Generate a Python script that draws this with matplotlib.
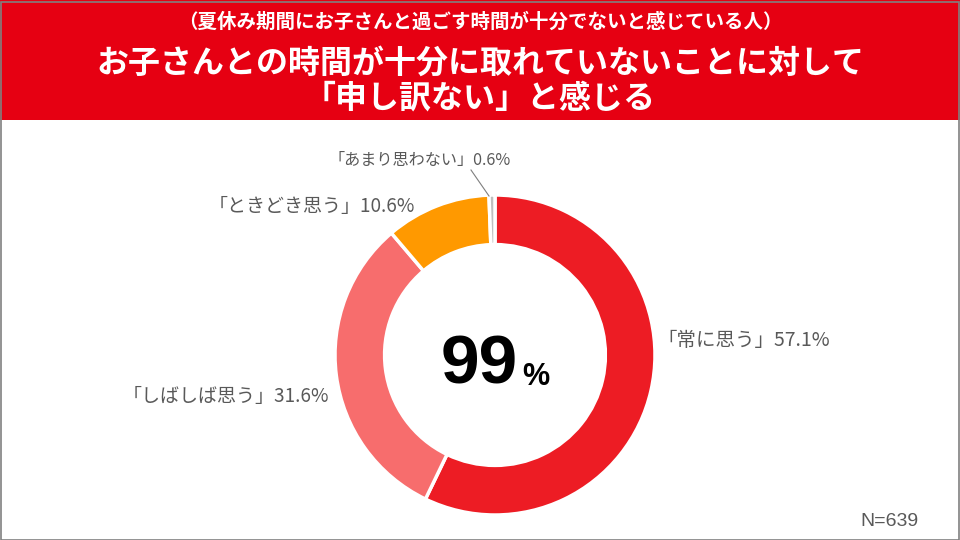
import matplotlib
matplotlib.use("Agg")
import matplotlib.pyplot as plt
from matplotlib.patches import Rectangle

plt.rcParams['font.family'] = ['Noto Sans CJK JP', 'DejaVu Sans']

categories = ["「常に思う」", "「しばしば思う」", "「ときどき思う」", "「あまり思わない」"]
values = [57.1, 31.6, 10.6, 0.6]
colors = ["#ED1C24", "#F76D6D", "#FF9900", "#BFBFBF"]
subtitle = "（夏休み期間にお子さんと過ごす時間が十分でないと感じている人）"
title = "お子さんとの時間が十分に取れていないことに対して\n「申し訳ない」と感じる"
center_value = "99"
n_text = "N=639"

W, H = 960, 540
fig = plt.figure(figsize=(9.6, 5.4), dpi=100)
fig.patch.set_facecolor("white")

def px(x, y):
    return x / W, 1 - y / H

# header band
fig.patches.append(Rectangle((0, 1 - 120 / H), 1, 120 / H, transform=fig.transFigure,
                             facecolor="#E60012", edgecolor="none", zorder=0))
# frame border
fig.patches.append(Rectangle((0.5 / W, 0.5 / H), 1 - 2 / W, 1 - 2 / H, transform=fig.transFigure,
                             facecolor="none", edgecolor="#808080", linewidth=1.2, zorder=5))

fig.text(*px(480, 22), subtitle, color="white", fontsize=14, fontweight="bold",
         ha="center", va="center")
fig.text(*px(480, 81), title, color="white", fontsize=23, fontweight="bold",
         ha="center", va="center", linespacing=1.14)

# donut
ax = fig.add_axes([335 / W, 25 / H, 320 / W, 320 / H])
ax.pie(values, colors=colors, startangle=90, counterclock=False, radius=1.0,
       wedgeprops=dict(width=0.31, edgecolor="white", linewidth=2.5))
ax.set_xlim(-1, 1)
ax.set_ylim(-1, 1)
ax.set_aspect("equal")
ax.axis("off")

ax.text(0.145, -0.065, center_value, fontsize=50, fontweight="bold", ha="right", va="center",
        family=["Liberation Sans", "DejaVu Sans"], color="black")
ax.text(0.17, -0.14, "%", fontsize=22, fontweight="bold", ha="left", va="center",
        family=["Liberation Sans", "DejaVu Sans"], color="black")

label_color = "#595959"
labels = [f"{c}{v}%" for c, v in zip(categories, values)]
fig.text(*px(657, 341), labels[0], color=label_color, fontsize=14, ha="left", va="center")
fig.text(*px(329, 396), labels[1], color=label_color, fontsize=13.7, ha="right", va="center")
fig.text(*px(415, 206), labels[2], color=label_color, fontsize=13.7, ha="right", va="center")
fig.text(*px(511, 160), labels[3], color=label_color, fontsize=11.6, ha="right", va="center")
# leader line
fig.add_artist(plt.Line2D([471 / W, 489 / W], [1 - 170 / H, 1 - 196 / H],
                          transform=fig.transFigure, color="#7f7f7f", linewidth=0.8))

fig.text(*px(918, 521), n_text, color=label_color, fontsize=14, ha="right", va="center",
         family=["Liberation Sans", "DejaVu Sans"])

fig.savefig("out.png", dpi=100)
